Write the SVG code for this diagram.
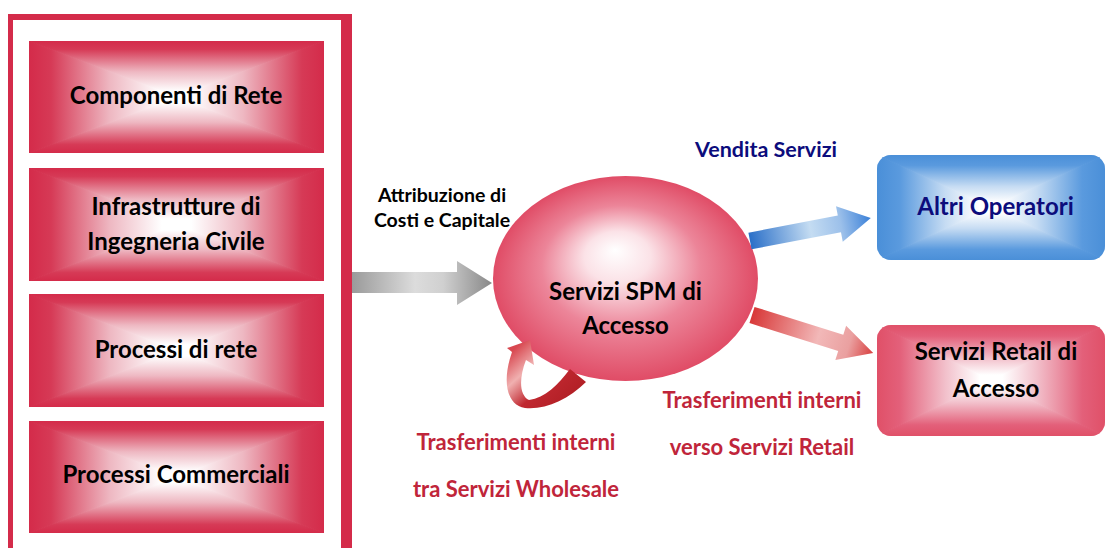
<svg xmlns="http://www.w3.org/2000/svg" xmlns:xlink="http://www.w3.org/1999/xlink" width="1106" height="548" viewBox="0 0 1106 548">
<style>
  .t { font-family: Lato, "Liberation Sans", sans-serif; font-weight: bold; text-anchor: middle; }
  .box { font-size: 24px; fill: #000; }
  .lbl { font-size: 19.5px; fill: #000; }
  .red { font-size: 22px; fill: #c0253a; }
  .navy { font-size: 21.5px; fill: #0c0c7c; }
  .seam { vector-effect: non-scaling-stroke; stroke-width: 1; stroke-linejoin: round; }
</style>
<defs>
  <linearGradient id="rT" x1="0" y1="0" x2="0" y2="1"><stop offset="0" stop-color="#d42b4a"/><stop offset="0.15" stop-color="#d63a56"/><stop offset="0.55" stop-color="#eeb8c2"/><stop offset="0.9" stop-color="#fff"/></linearGradient>
  <linearGradient id="rB" x1="0" y1="1" x2="0" y2="0" xlink:href="#rT"/>
  <linearGradient id="rL" x1="0" y1="0" x2="1" y2="0" xlink:href="#rT"/>
  <linearGradient id="rR" x1="1" y1="0" x2="0" y2="0" xlink:href="#rT"/>
  <linearGradient id="pT" x1="0" y1="0" x2="0" y2="1"><stop offset="0" stop-color="#e05068"/><stop offset="0.2" stop-color="#e3607a"/><stop offset="0.6" stop-color="#f2c0cb"/><stop offset="0.9" stop-color="#fff"/></linearGradient>
  <linearGradient id="pB" x1="0" y1="1" x2="0" y2="0" xlink:href="#pT"/>
  <linearGradient id="pL" x1="0" y1="0" x2="1" y2="0" xlink:href="#pT"/>
  <linearGradient id="pR" x1="1" y1="0" x2="0" y2="0" xlink:href="#pT"/>
  <linearGradient id="bT" x1="0" y1="0" x2="0" y2="1"><stop offset="0" stop-color="#4a8fd8"/><stop offset="0.2" stop-color="#5a9ade"/><stop offset="0.6" stop-color="#c6dcf3"/><stop offset="0.9" stop-color="#fff"/></linearGradient>
  <linearGradient id="bB" x1="0" y1="1" x2="0" y2="0" xlink:href="#bT"/>
  <linearGradient id="bL" x1="0" y1="0" x2="1" y2="0" xlink:href="#bT"/>
  <linearGradient id="bR" x1="1" y1="0" x2="0" y2="0" xlink:href="#bT"/>
  <g id="redFill">
    <polygon class="seam" points="0,0 1,0 0.5,0.5" fill="url(#rT)" stroke="url(#rT)"/>
    <polygon class="seam" points="0,1 1,1 0.5,0.5" fill="url(#rB)" stroke="url(#rB)"/>
    <polygon class="seam" points="0,0 0,1 0.5,0.5" fill="url(#rL)" stroke="url(#rL)"/>
    <polygon class="seam" points="1,0 1,1 0.5,0.5" fill="url(#rR)" stroke="url(#rR)"/>
  </g>
  <g id="pinkFill">
    <polygon class="seam" points="0,0 1,0 0.5,0.5" fill="url(#pT)" stroke="url(#pT)"/>
    <polygon class="seam" points="0,1 1,1 0.5,0.5" fill="url(#pB)" stroke="url(#pB)"/>
    <polygon class="seam" points="0,0 0,1 0.5,0.5" fill="url(#pL)" stroke="url(#pL)"/>
    <polygon class="seam" points="1,0 1,1 0.5,0.5" fill="url(#pR)" stroke="url(#pR)"/>
  </g>
  <g id="blueFill">
    <polygon class="seam" points="0,0 1,0 0.5,0.5" fill="url(#bT)" stroke="url(#bT)"/>
    <polygon class="seam" points="0,1 1,1 0.5,0.5" fill="url(#bB)" stroke="url(#bB)"/>
    <polygon class="seam" points="0,0 0,1 0.5,0.5" fill="url(#bL)" stroke="url(#bL)"/>
    <polygon class="seam" points="1,0 1,1 0.5,0.5" fill="url(#bR)" stroke="url(#bR)"/>
  </g>
  <clipPath id="clipRect"><rect x="0" y="0" width="1" height="1"/></clipPath>
  <clipPath id="clipAltri"><rect x="877" y="155" width="228" height="105" rx="14"/></clipPath>
  <clipPath id="clipRetail"><rect x="877" y="325" width="228" height="111" rx="14"/></clipPath>
  <radialGradient id="ellG" cx="0.5" cy="0.5" r="0.5" fx="0.46" fy="0.36">
    <stop offset="0" stop-color="#ffffff"/><stop offset="0.25" stop-color="#fbe2e7"/><stop offset="0.6" stop-color="#ec8599"/><stop offset="1" stop-color="#e04c66"/>
  </radialGradient>
  <linearGradient id="grayG" x1="0" y1="0" x2="1" y2="0">
    <stop offset="0" stop-color="#9a9a9a"/><stop offset="0.45" stop-color="#dcdcdc"/><stop offset="0.65" stop-color="#d0d0d0"/><stop offset="1" stop-color="#888"/>
  </linearGradient>
  <linearGradient id="blueG" x1="0" y1="0" x2="1" y2="0">
    <stop offset="0" stop-color="#2a6fc8"/><stop offset="0.5" stop-color="#c4dcf2"/><stop offset="0.75" stop-color="#9cc0ea"/><stop offset="1" stop-color="#3a80d8"/>
  </linearGradient>
  <linearGradient id="redG" x1="0" y1="0" x2="1" y2="0">
    <stop offset="0" stop-color="#d83838"/><stop offset="0.55" stop-color="#f2b8b8"/><stop offset="0.8" stop-color="#eaa0a0"/><stop offset="1" stop-color="#d84040"/>
  </linearGradient>
  <linearGradient id="loopG" gradientUnits="userSpaceOnUse" x1="575" y1="400" x2="522" y2="342">
    <stop offset="0" stop-color="#b01e24"/><stop offset="0.4" stop-color="#c02830"/><stop offset="0.7" stop-color="#f0b0b0"/><stop offset="1" stop-color="#d84850"/>
  </linearGradient>
</defs>
<rect width="1106" height="548" fill="#fff"/>

<g id="frame">
  <rect x="8" y="14" width="344" height="540" fill="#d42b4a"/>
  <rect x="13" y="20" width="328" height="540" fill="#fff"/>
</g>

<g id="componenti">
  <use xlink:href="#redFill" transform="translate(29,41) scale(295,112)" clip-path="url(#clipRect)"/>
  <text class="t box" x="176" y="104">Componenti di Rete</text>
</g>
<g id="infrastrutture">
  <use xlink:href="#redFill" transform="translate(29,168) scale(295,113)" clip-path="url(#clipRect)"/>
  <text class="t box" x="176" y="215">Infrastrutture di</text>
  <text class="t box" x="176" y="250">Ingegneria Civile</text>
</g>
<g id="processi-rete">
  <use xlink:href="#redFill" transform="translate(29,294) scale(295,113)" clip-path="url(#clipRect)"/>
  <text class="t box" x="176" y="358">Processi di rete</text>
</g>
<g id="processi-commerciali">
  <use xlink:href="#redFill" transform="translate(29,421) scale(295,112)" clip-path="url(#clipRect)"/>
  <text class="t box" x="176" y="483">Processi Commerciali</text>
</g>

<g id="servizi-spm">
  <ellipse cx="625.5" cy="278.5" rx="132.5" ry="102.5" fill="url(#ellG)"/>
  <text class="t box" x="625.5" y="300">Servizi SPM di</text>
  <text class="t box" x="625.5" y="334">Accesso</text>
</g>

<g id="altri-operatori">
  <g clip-path="url(#clipAltri)">
    <use xlink:href="#blueFill" transform="translate(877,155) scale(228,105)"/>
  </g>
  <text class="t box" x="995.5" y="215" style="fill:#0c0c7c">Altri Operatori</text>
</g>

<g id="servizi-retail">
  <g clip-path="url(#clipRetail)">
    <use xlink:href="#pinkFill" transform="translate(877,325) scale(228,111)"/>
  </g>
  <text class="t box" x="996" y="360">Servizi Retail di</text>
  <text class="t box" x="996" y="397">Accesso</text>
</g>

<g id="connectors">
  <polygon points="352,272 457,272 457,261 492,283 457,305 457,293 352,293" fill="url(#grayG)"/>
  <polygon transform="translate(750,241) rotate(-10.8)" points="0,-8.5 91,-8.5 91,-18 123,0 91,18 91,8.5 0,8.5" fill="url(#blueG)"/>
  <polygon transform="translate(752,315) rotate(17.4)" points="0,-8.5 93,-8.5 93,-18 127,0 93,18 93,8.5 0,8.5" fill="url(#redG)"/>
  <path d="M570,369 L586,382 C568,400 545,410 525,408 C506,405 502,380 512,352 L507,348 L530,340 L534,365 L526,360 C519,378 519,395 529,400 C545,398 558,385 570,369 Z" fill="url(#loopG)"/>
</g>

<g id="labels">
  <text class="t lbl" x="442" y="202">Attribuzione di</text>
  <text class="t lbl" x="442" y="227">Costi e Capitale</text>
  <text class="t navy" x="766" y="157">Vendita Servizi</text>
  <text class="t red" x="516" y="450">Trasferimenti interni</text>
  <text class="t red" x="516" y="497">tra Servizi Wholesale</text>
  <text class="t red" x="762" y="408">Trasferimenti interni</text>
  <text class="t red" x="762" y="455">verso Servizi Retail</text>
</g>
</svg>
